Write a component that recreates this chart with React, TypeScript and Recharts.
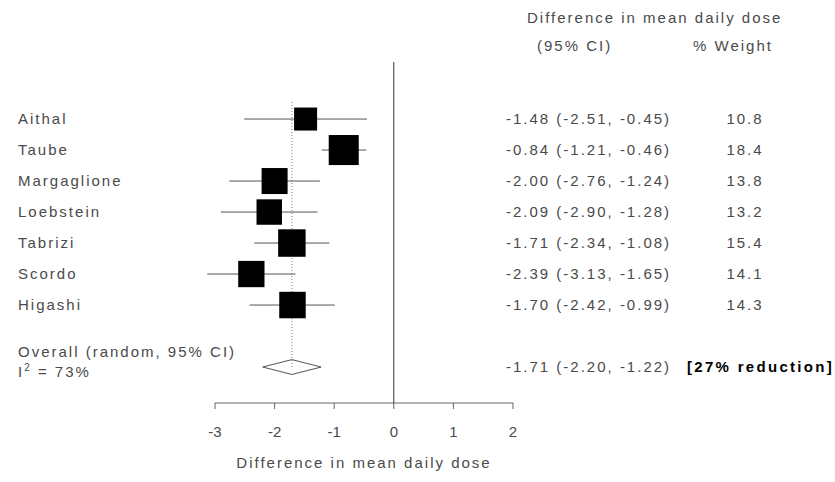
import { ScatterChart, Scatter, XAxis, YAxis, ReferenceLine } from "recharts";

const studies = ["Aithal", "Taube", "Margaglione", "Loebstein", "Tabrizi", "Scordo", "Higashi"];
const estimates = [-1.48, -0.84, -2.0, -2.09, -1.71, -2.39, -1.7];
const lowerCI = [-2.51, -1.21, -2.76, -2.9, -2.34, -3.13, -2.42];
const upperCI = [-0.45, -0.46, -1.24, -1.28, -1.08, -1.65, -0.99];
const weights = [10.8, 18.4, 13.8, 13.2, 15.4, 14.1, 14.3];

const overallEst = -1.71;
const overallLo = -2.2;
const overallHi = -1.22;
const overallRow = 8;
const xTicks = [-3, -2, -1, 0, 1, 2];

const FONT = "'Liberation Sans', Arial, sans-serif";
const TEXT = "#4a4a4a";

const studyData = studies.map((name, i) => ({
  name,
  x: estimates[i],
  y: i,
  w: weights[i],
}));

// diamond outline for the pooled estimate
const diamond = [
  { x: overallLo, y: overallRow },
  { x: overallEst, y: overallRow - 0.24 },
  { x: overallHi, y: overallRow },
  { x: overallEst, y: overallRow + 0.24 },
  { x: overallLo, y: overallRow },
];

const rowTicks = [...studies.map((_, i) => i), overallRow];
const fmt = (v: number) => v.toFixed(2);

const txt = { fontFamily: FONT, fontSize: 15, fill: TEXT, letterSpacing: 2 };

function LeftTick(props: any) {
  const { y, payload } = props;
  const v = payload.value;
  if (v === overallRow) {
    return (
      <g>
        <text x={18} y={y - 10} {...txt}>
          Overall (random, 95% CI)
        </text>
        <text x={18} y={y + 10} {...txt}>
          I<tspan dy={-6} fontSize={10}>2</tspan>
          <tspan dy={6}> = 73%</tspan>
        </text>
      </g>
    );
  }
  return (
    <text x={18} y={y + 5} {...txt}>
      {studies[v]}
    </text>
  );
}

function RightTick(props: any) {
  const { y, payload } = props;
  const v = payload.value;
  if (v === overallRow) {
    return (
      <g>
        <text x={506} y={y + 5} {...txt}>
          {`${fmt(overallEst)} (${fmt(overallLo)}, ${fmt(overallHi)})`}
        </text>
        <text x={687} y={y + 5} fontFamily={FONT} fontSize={15} fontWeight="bold" fill="#000" letterSpacing={2.3}>
          [27% reduction]
        </text>
      </g>
    );
  }
  return (
    <g>
      <text x={506} y={y + 5} {...txt}>
        {`${fmt(estimates[v])} (${fmt(lowerCI[v])}, ${fmt(upperCI[v])})`}
      </text>
      <text x={745} y={y + 5} textAnchor="middle" {...txt}>
        {weights[v].toFixed(1)}
      </text>
    </g>
  );
}

function WeightedSquare(props: any) {
  const { cx, cy, payload } = props;
  const side = 7 * Math.sqrt(payload.w);
  return <rect x={cx - side / 2} y={cy - side / 2} width={side} height={side} fill="#000" />;
}

const header = {
  position: "absolute" as const,
  fontFamily: FONT,
  fontSize: 15,
  color: TEXT,
  letterSpacing: 2,
  whiteSpace: "nowrap" as const,
  lineHeight: "18px",
};

export default function App() {
  return (
    <div style={{ position: "absolute", left: 0, top: 0, width: 835, height: 482, background: "#fff" }}>
      <div style={{ ...header, left: 527, top: 9 }}>Difference in mean daily dose</div>
      <div style={{ ...header, left: 537, top: 37 }}>(95% CI)</div>
      <div style={{ ...header, left: 693, top: 37 }}>% Weight</div>
      <ScatterChart width={835} height={482} margin={{ top: 62, right: 0, bottom: 29, left: 0 }}>
        <XAxis
          type="number"
          dataKey="x"
          domain={[-3, 2]}
          ticks={xTicks}
          height={50}
          stroke="#666"
          tickSize={6}
          tickMargin={17}
          tick={{ fontFamily: FONT, fontSize: 15, fill: TEXT }}
          label={{
            value: "Difference in mean daily dose",
            position: "bottom",
            offset: 4,
            style: { fontFamily: FONT, fontSize: 15, fill: TEXT, letterSpacing: 2 },
          }}
        />
        <YAxis
          yAxisId="left"
          type="number"
          dataKey="y"
          domain={[-1.84, 9.16]}
          reversed
          ticks={rowTicks}
          width={215}
          axisLine={false}
          tickLine={false}
          tick={<LeftTick />}
        />
        <YAxis
          yAxisId="right"
          orientation="right"
          type="number"
          dataKey="y"
          domain={[-1.84, 9.16]}
          reversed
          ticks={rowTicks}
          width={322}
          axisLine={false}
          tickLine={false}
          tick={<RightTick />}
          allowDataOverflow
        />
        <ReferenceLine yAxisId="left" x={0} stroke="#333" strokeWidth={1} />
        <ReferenceLine
          yAxisId="left"
          segment={[
            { x: overallEst, y: -0.55 },
            { x: overallEst, y: overallRow },
          ]}
          stroke="#777"
          strokeDasharray="1 2"
        />
        {studyData.map((d, i) => (
          <ReferenceLine
            key={d.name}
            yAxisId="left"
            ifOverflow="visible"
            segment={[
              { x: lowerCI[i], y: i },
              { x: upperCI[i], y: i },
            ]}
            stroke="#555"
            strokeWidth={1}
          />
        ))}
        <Scatter
          yAxisId="left"
          data={studyData}
          shape={<WeightedSquare />}
          isAnimationActive={false}
        />
        <Scatter
          yAxisId="left"
          data={diamond}
          line={{ stroke: "#555", strokeWidth: 1 }}
          lineType="joint"
          shape={() => <g />}
          isAnimationActive={false}
        />
      </ScatterChart>
    </div>
  );
}
